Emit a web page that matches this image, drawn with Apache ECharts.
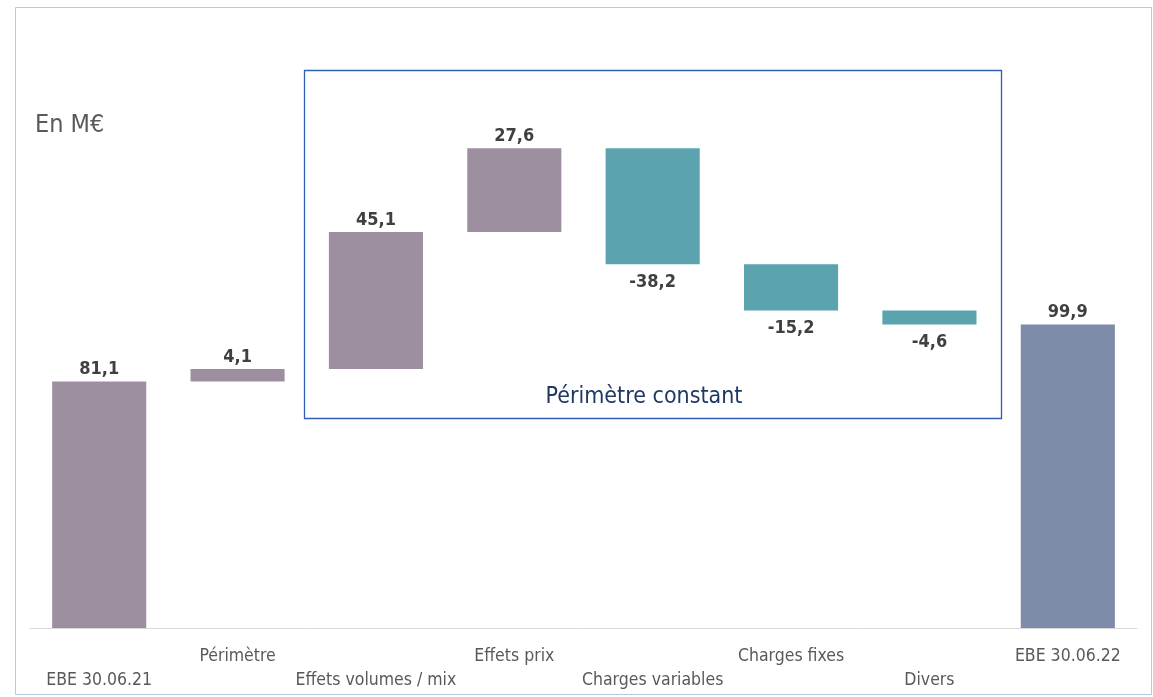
<!DOCTYPE html>
<html><head><meta charset="utf-8">
<script src="https://cdn.jsdelivr.net/npm/echarts@6/dist/echarts.min.js"></script>
<style>html,body{margin:0;padding:0;background:#fff}#c{width:1153px;height:697px}</style>
</head><body><div id="c"></div>
<script>
const categories = ['EBE 30.06.21','Périmètre','Effets volumes / mix','Effets prix','Charges variables','Charges fixes','Divers','EBE 30.06.22'];
const values = [81.1, 4.1, 45.1, 27.6, -38.2, -15.2, -4.6, 99.9];
const kinds = ['total','delta','delta','delta','delta','delta','delta','total'];
const unitLabel = 'En M€';
const boxLabel = 'Périmètre constant';

const COL_UP = '#9D8FA0', COL_DOWN = '#5BA3AE', COL_END = '#7E8BA9';
const base = [], vis = [];
let run = 0;
values.forEach((v, i) => {
  if (kinds[i] === 'total') { base.push(0); run = v; vis.push({value: v, itemStyle: {color: i === 0 ? COL_UP : COL_END}, label: {position: 'top'}}); }
  else if (v >= 0) { base.push(run); run += v; vis.push({value: v, itemStyle: {color: COL_UP}, label: {position: 'top'}}); }
  else { run += v; base.push(run); vis.push({value: -v, itemStyle: {color: COL_DOWN}, label: {position: 'bottom', distance: 9}}); }
});
const fmt = v => v.toFixed(1).replace('.', ',');
const FONT = '"DejaVu Sans Condensed","DejaVu Sans",sans-serif';

const chart = echarts.init(document.getElementById('c'));
chart.setOption({
  animation: false,
  backgroundColor: '#fff',
  grid: {left: 30, right: 16, top: 81, bottom: 69},
  xAxis: {type: 'category', data: categories,
    axisLine: {lineStyle: {color: '#d9d9d9', width: 1}}, axisTick: {show: false},
    axisLabel: {interval: 0, margin: 16, color: '#595959', fontFamily: FONT, fontSize: 17.5, lineHeight: 24,
      formatter: (v, i) => (i % 2 === 0 ? '\n' + v : v)}},
  yAxis: {type: 'value', min: 0, max: 180, show: false, splitLine: {show: false}},
  series: [
    {type: 'bar', stack: 'w', data: base, itemStyle: {color: 'transparent'}, barWidth: '68%', silent: true},
    {type: 'bar', stack: 'w', data: vis, barWidth: '68%',
      label: {show: true, distance: 3, color: '#404040', fontFamily: FONT, fontSize: 18, fontWeight: 'bold',
        formatter: p => fmt(values[p.dataIndex])}}
  ],
  graphic: [
    {type: 'rect', shape: {x: 15.5, y: 7.5, width: 1136, height: 687}, style: {fill: 'none', stroke: '#b4cae3', lineWidth: 1}, silent: true},
    {type: 'rect', shape: {x: 304.5, y: 70.5, width: 697, height: 348}, style: {fill: 'none', stroke: '#2f5fb3', lineWidth: 1.3}, silent: true},
    {type: 'text', x: 35, y: 125, style: {text: unitLabel, fill: '#595959', font: '25px ' + FONT, textVerticalAlign: 'middle'}},
    {type: 'text', x: 644, y: 397, style: {text: boxLabel, fill: '#1f3864', font: '23px ' + FONT, textAlign: 'center', textVerticalAlign: 'middle'}}
  ]
});
</script></body></html>
